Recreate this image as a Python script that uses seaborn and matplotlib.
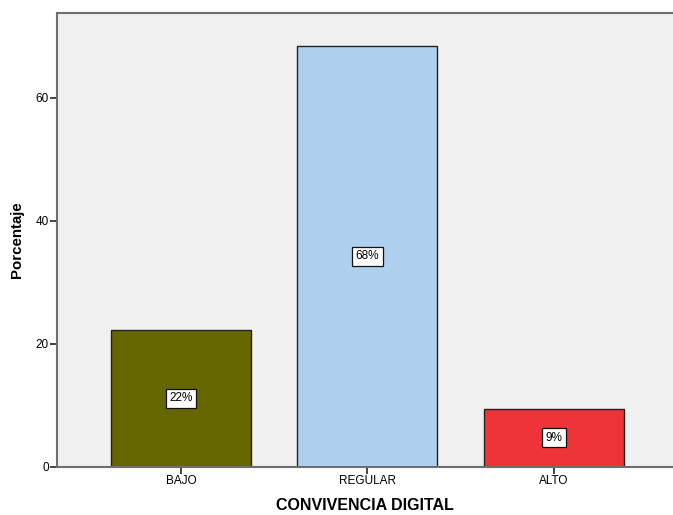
import pandas as pd
import matplotlib.pyplot as plt
import seaborn as sns

categorias = ['BAJO', 'REGULAR', 'ALTO']
porcentajes = [22.2, 68.4, 9.4]
etiquetas = ['22%', '68%', '9%']
colores = ['#666600', '#aed0ee', '#ee3339']

df = pd.DataFrame({'nivel': categorias, 'pct': porcentajes})

sns.set_style('white')
plt.rcParams['font.family'] = ['Liberation Sans', 'DejaVu Sans']
plt.rcParams['text.color'] = 'black'
plt.rcParams['axes.labelcolor'] = 'black'
plt.rcParams['xtick.color'] = 'black'
plt.rcParams['ytick.color'] = 'black'

fig = plt.figure(figsize=(6.73, 5.15), dpi=100)
ax = fig.add_axes([57 / 673, 48.3 / 515, 1 - 57 / 673, (466.7 - 13.3) / 515])
ax.set_facecolor('#f0f0f0')

sns.barplot(data=df, x='nivel', y='pct', hue='nivel', palette=colores,
            saturation=1, width=0.75, edgecolor='#222222', linewidth=1.0,
            legend=False, ax=ax)

for i, (v, t) in enumerate(zip(porcentajes, etiquetas)):
    ax.text(i, v / 2, t, ha='center', va='center', fontsize=8.5,
            bbox=dict(boxstyle='square,pad=0.3', facecolor='white',
                      edgecolor='#111111', linewidth=0.9))

ax.set_xlim(-0.665, 2.64)
ax.set_ylim(0, 73.7)
ax.set_yticks([0, 20, 40, 60])
ax.tick_params(axis='both', direction='out', length=5, width=1.2,
               color='#222222', labelsize=8.5, pad=1, left=True, bottom=True)

for side in ['top', 'left', 'bottom']:
    ax.spines[side].set_color('#6e6e6e')
    ax.spines[side].set_linewidth(1.5)
ax.spines['right'].set_visible(False)

ax.set_xlabel('CONVIVENCIA DIGITAL', fontsize=11.5, fontweight='bold', labelpad=8)
ax.set_ylabel('Porcentaje', fontsize=10.8, fontweight='bold', labelpad=8)

fig.savefig('out.png', dpi=100)
